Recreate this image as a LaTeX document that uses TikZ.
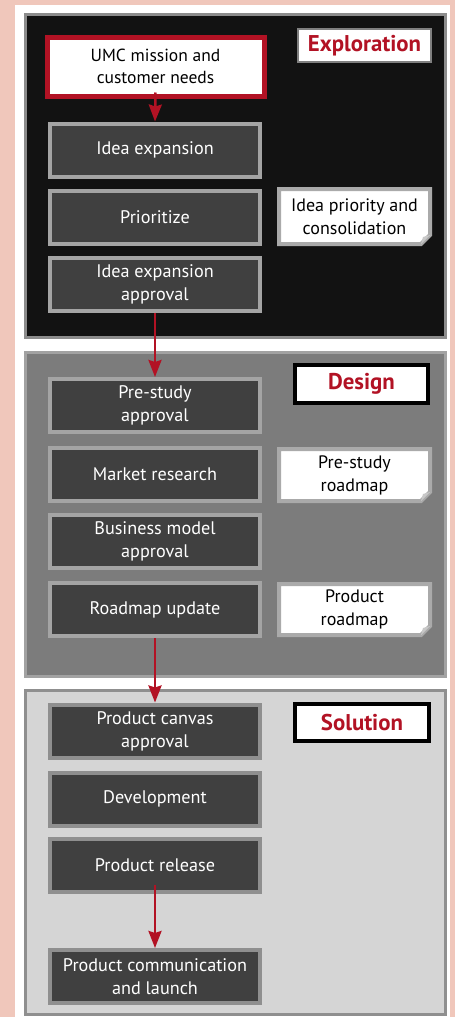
\documentclass[tikz,border=0pt]{standalone}
\usepackage{fontspec}
\setmainfont{PT Sans}
\usetikzlibrary{arrows.meta}
\definecolor{pinkbg}{RGB}{240,199,187}
\definecolor{umcred}{RGB}{178,18,36}
\definecolor{stepfill}{RGB}{64,64,64}
\definecolor{stepedge}{RGB}{164,164,164}
\definecolor{explfill}{RGB}{18,18,18}
\definecolor{expledge}{RGB}{140,140,140}
\definecolor{desfill}{RGB}{124,124,124}
\definecolor{desedge}{RGB}{162,162,162}
\definecolor{solfill}{RGB}{213,213,213}
\definecolor{soledge}{RGB}{143,143,143}
\definecolor{docedge}{RGB}{170,170,170}
\definecolor{foldgray}{RGB}{200,200,200}
\begin{document}
\begin{tikzpicture}[x=1pt,y=-1pt,
  stepbox/.style={draw=stepedge, line width=4pt, fill=stepfill, text=white,
    minimum width=210pt, minimum height=53pt, inner sep=0pt, align=center,
    font=\fontsize{18.2}{23}\selectfont},
  umcbox/.style={draw=umcred, line width=5pt, fill=white, text=black,
    minimum width=217pt, minimum height=59pt, inner sep=0pt, align=center,
    font=\fontsize{17.5}{22}\selectfont},
  doctext/.style={text=black, inner sep=0pt, align=center,
    font=\fontsize{18}{23}\selectfont},
  docshape/.style={fill=white, draw=docedge, line width=4pt, line join=miter},
  phasebox/.style={fill=white, line width=4pt, inner sep=0pt,
    minimum width=133pt, text=umcred, font=\fontsize{22.8}{26}\selectfont\bfseries},
  panel/.style={line width=3pt},
  arr/.style={draw=umcred, line width=2.5pt, -{Stealth[width=13pt,length=17pt,inset=2pt]}}
]
\useasboundingbox (0,0) rectangle (455,1017);
\fill[pinkbg] (0,0) rectangle (455,1017);
\fill[white] (15,5) rectangle (450,1020);

% panels
\draw[panel, fill=explfill, draw=expledge] (25,14) rectangle (445,337);
\draw[panel, fill=desfill, draw=desedge] (25,352) rectangle (445,676);
\draw[panel, fill=solfill, draw=soledge] (25,690) rectangle (445,1014);

% phase labels
\node[phasebox, draw=gray, line width=2.5pt, minimum height=33pt] (lexp) at (364.5,45.5) {Exploration};
\node[phasebox, draw=black, minimum height=38pt] (ldes) at (361.5,384) {Design};
\node[phasebox, draw=black, minimum height=37pt, minimum width=134pt] (lsol) at (362,722.5) {Solution};

% exploration steps
\node[umcbox] (umc) at (155.5,66.5) {UMC mission and\\customer needs};
\node[stepbox] (idea) at (155,150) {Idea expansion};
\node[stepbox] (prio) at (155,217) {Prioritize};
\node[stepbox] (iea) at (155,284) {Idea expansion\\approval};

% design steps
\node[stepbox] (psa) at (155,405.5) {Pre-study\\approval};
\node[stepbox] (mr) at (155,474.5) {Market research};
\node[stepbox] (bma) at (155,541.5) {Business model\\approval};
\node[stepbox] (ru) at (155,609.5) {Roadmap update};

% solution steps
\node[stepbox, draw=soledge] (pca) at (155,731) {Product canvas\\approval};
\node[stepbox, draw=soledge] (dev) at (155,799) {Development};
\node[stepbox, draw=soledge] (pr) at (155,865.5) {Product release};
\node[stepbox, draw=soledge] (pcl) at (155,976.5) {Product communication\\and launch};

% documents
\path[docshape] (279,189) -- (430,189) -- (430,235) -- (421,244) -- (279,244) -- cycle;
\fill[foldgray] (430,235) -- (421,244) -- (423,237) -- cycle;
\node[doctext] (dipc) at (354.5,216.5) {Idea priority and\\consolidation};

\path[docshape] (279,449) -- (430,449) -- (430,492) -- (421,501) -- (279,501) -- cycle;
\fill[foldgray] (430,492) -- (421,501) -- (423,494) -- cycle;
\node[doctext] (dpsr) at (354.5,475) {Pre-study\\roadmap};

\path[docshape] (279,584) -- (430,584) -- (430,626) -- (421,635) -- (279,635) -- cycle;
\fill[foldgray] (430,626) -- (421,635) -- (423,628) -- cycle;
\node[doctext] (dpr) at (354.5,609.5) {Product\\roadmap};

% arrows
\draw[arr] ([yshift=6pt]umc.south) -- (idea.north);
\draw[arr] (iea.south) -- (psa.north);
\draw[arr] (ru.south) -- (pca.north);
\draw[arr] ([yshift=9pt]pr.south) -- (pcl.north);
\end{tikzpicture}
\end{document}
